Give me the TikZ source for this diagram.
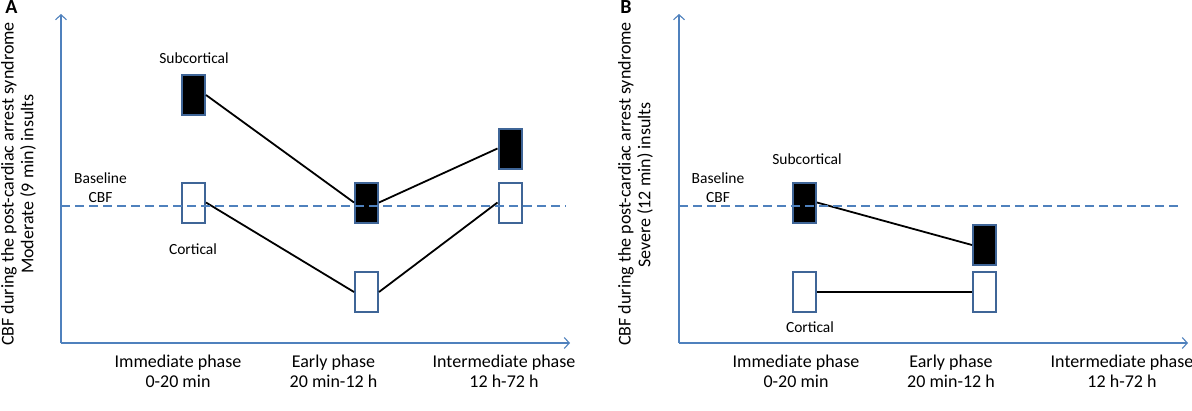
\documentclass[tikz,border=0pt]{standalone}
\usepackage{fontspec}
\setmainfont{Carlito}
\usetikzlibrary{arrows.meta}
\definecolor{axisblue}{HTML}{4F81BD}
\definecolor{boxblue}{HTML}{3F6597}
\tikzset{
  axisline/.style={draw=axisblue, line width=1.3pt, -{Straight Barb[length=5pt,width=11pt,line width=1.1pt]}},
  baseln/.style={color=axisblue, line width=2pt, dash pattern=on 9pt off 5pt},
  subbox/.style={draw=boxblue, fill=black, line width=2pt, minimum width=23pt, minimum height=40pt, inner sep=0pt},
  cortbox/.style={draw=boxblue, fill=white, line width=2pt, minimum width=23pt, minimum height=40pt, inner sep=0pt},
  link/.style={draw=black, line width=1.8pt},
  phase/.style={font=\fontsize{18}{20}\selectfont, align=center, anchor=base, inner sep=0pt},
  ylab/.style={font=\fontsize{18}{20}\selectfont, rotate=90},
  small/.style={font=\fontsize{15.5}{19}\selectfont, align=center},
  panel/.style={font=\fontsize{20}{22}\selectfont\bfseries}
}
\begin{document}
\begin{tikzpicture}[x=1pt,y=-1pt]
\useasboundingbox (0,0) rectangle (1192,410);
% ---------- Panel A ----------
\node[panel] (pA) at (11.5,7) {A};
\coordinate (Ao) at (61,343);
\coordinate (Ay) at (61,14);
\coordinate (Ax) at (570,343);
\draw[axisline] (Ao) -- (Ay);
\draw[axisline] (Ao) -- (Ax);
\node[ylab] (yA1) at (9,184) {CBF during the post-cardiac arrest syndrome};
\node[ylab] (yA2) at (28,184) {Moderate (9 min) insults};
\node[subbox] (As1) at (193.5,95) {};
\node[cortbox] (Ac1) at (193.5,202.5) {};
\node[subbox] (As2) at (366.5,202.5) {};
\node[cortbox] (Ac2) at (366.5,292) {};
\node[subbox] (As3) at (510,148.5) {};
\node[cortbox] (Ac3) at (510,202.5) {};
\draw[link] (As1.east) -- (As2.west);
\draw[link] (As2.east) -- (As3.west);
\draw[link] (Ac1.east) -- (Ac2.west);
\draw[link] (Ac2.east) -- (Ac3.west);
\coordinate (Ab0) at (61,205.5);
\coordinate (Ab1) at (566,205.5);
\draw[baseln] (Ab0) -- (Ab1);
\node[small] (AsubL) at (194,58) {Subcortical};
\node[small] (AcortL) at (193,249) {Cortical};
\node[small] (AbaseL) at (100.5,188) {Baseline\\CBF};
\node[phase] (Ap1) at (178,387) {Immediate phase\\0-20 min};
\node[phase] (Ap2) at (333.5,387) {Early phase\\20 min-12 h};
\node[phase] (Ap3) at (504,387) {Intermediate phase\\12 h-72 h};
% ---------- Panel B ----------
\node[panel] (pB) at (626,7) {B};
\coordinate (Bo) at (679,343);
\coordinate (By) at (679,14);
\coordinate (Bx) at (1188,343);
\draw[axisline] (Bo) -- (By);
\draw[axisline] (Bo) -- (Bx);
\node[ylab] (yB1) at (626,184) {CBF during the post-cardiac arrest syndrome};
\node[ylab] (yB2) at (645,185) {Severe (12 min) insults};
\node[subbox] (Bs1) at (804.5,202.5) {};
\node[cortbox] (Bc1) at (804.5,292) {};
\node[subbox] (Bs2) at (984.5,245) {};
\node[cortbox] (Bc2) at (984.5,292) {};
\draw[link] (Bs1.east) -- (Bs2.west);
\draw[link] (Bc1.east) -- (Bc2.west);
\coordinate (Bb0) at (679,205.5);
\coordinate (Bb1) at (1182,205.5);
\draw[baseln] (Bb0) -- (Bb1);
\node[small] (BsubL) at (807,159) {Subcortical};
\node[small] (BcortL) at (810,327) {Cortical};
\node[small] (BbaseL) at (718,188) {Baseline\\CBF};
\node[phase] (Bp1) at (796,387) {Immediate phase\\0-20 min};
\node[phase] (Bp2) at (951,387) {Early phase\\20 min-12 h};
\node[phase] (Bp3) at (1122,387) {Intermediate phase\\12 h-72 h};
\end{tikzpicture}
\end{document}
